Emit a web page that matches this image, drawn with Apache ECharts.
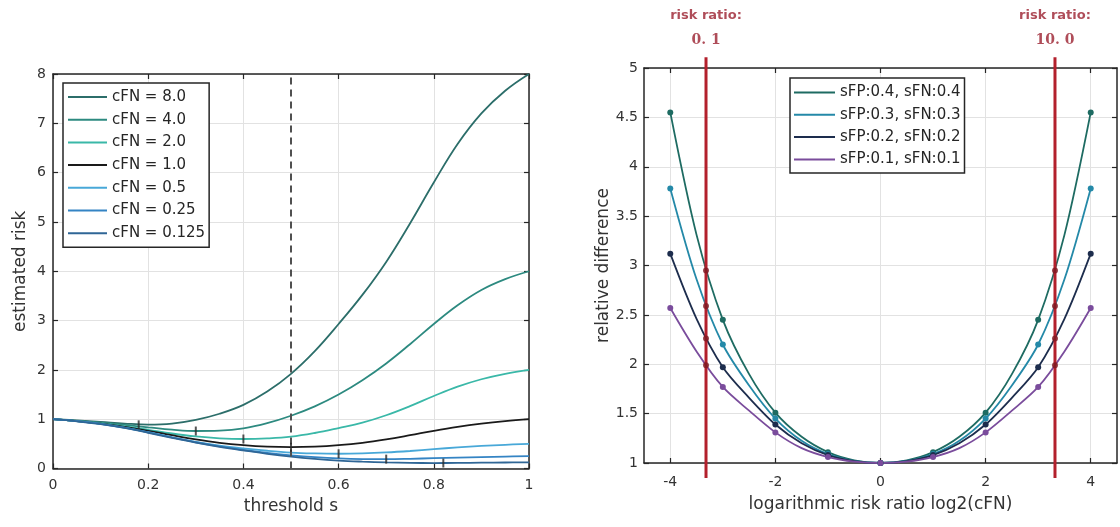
<!DOCTYPE html>
<html><head><meta charset="utf-8">
<script src="https://cdn.jsdelivr.net/npm/echarts@6/dist/echarts.min.js"></script>
<style>html,body{margin:0;padding:0;background:#fff}#c{width:1120px;height:527px}</style>
</head><body><div id="c"></div>
<script>
// ---------- left panel data ----------
const thresholds = [0,0.05,0.1,0.15,0.2,0.25,0.3,0.35,0.4,0.45,0.5,0.55,0.6,0.65,0.7,0.75,0.8,0.85,0.9,0.95,1];
const cfnNames = ['cFN = 8.0','cFN = 4.0','cFN = 2.0','cFN = 1.0','cFN = 0.5','cFN = 0.25','cFN = 0.125'];
const risk8   = [1,0.975,0.945,0.912,0.89,0.91,0.985,1.11,1.29,1.56,1.92,2.38,2.93,3.52,4.19,4.97,5.8,6.58,7.2,7.66,8];
const risk4   = [1,0.966,0.93,0.885,0.835,0.787,0.76,0.768,0.815,0.92,1.07,1.26,1.5,1.79,2.13,2.52,2.93,3.31,3.62,3.84,4];
const risk2   = [1,0.962,0.915,0.855,0.785,0.71,0.65,0.612,0.598,0.61,0.645,0.72,0.82,0.93,1.08,1.265,1.47,1.66,1.81,1.92,2];
const risk1   = [1,0.961,0.91,0.845,0.765,0.675,0.59,0.52,0.472,0.442,0.432,0.442,0.472,0.52,0.59,0.675,0.765,0.845,0.91,0.961,1];
const risk05  = [1,0.96,0.905,0.83,0.735,0.6325,0.54,0.465,0.41,0.36,0.3225,0.305,0.299,0.306,0.325,0.355,0.3925,0.4275,0.4575,0.481,0.5];
const risk025 = [1,0.96,0.905,0.8275,0.7325,0.63,0.5325,0.4475,0.375,0.315,0.2675,0.23,0.204,0.192,0.19,0.197,0.209,0.221,0.2325,0.2415,0.25];
const risk0125= [1,0.9575,0.9,0.8225,0.725,0.621,0.524,0.44,0.366,0.2975,0.24,0.195,0.161,0.139,0.123,0.114,0.111,0.114,0.118,0.122,0.125];
const minS = [0.18,0.3,0.4,0.5,0.6,0.7,0.82];
const minV = [0.885,0.76,0.598,0.432,0.299,0.19,0.111];
const dashedS = 0.5;
const leftColors = ['#2c6e6a','#2d8a80','#3ab8a8','#1a1a1a','#48a8d8','#3484c4','#2f6696'];

// ---------- right panel data ----------
const logRatioFine = [-4,-3.5,-3,-2.5,-2,-1.5,-1,-0.5,0,0.5,1,1.5,2,2.5,3,3.5,4];
const logRatioMarked = [-4,-3,-2,-1,0,1,2,3,4];
const relNames = ['sFP:0.4, sFN:0.4','sFP:0.3, sFN:0.3','sFP:0.2, sFN:0.2','sFP:0.1, sFN:0.1'];
const rel04 = [4.55,3.31,2.45,1.90,1.51,1.265,1.11,1.026,1,1.026,1.11,1.265,1.51,1.90,2.45,3.31,4.55];
const rel03 = [3.78,2.86,2.20,1.785,1.45,1.225,1.09,1.021,1,1.021,1.09,1.225,1.45,1.785,2.20,2.86,3.78];
const rel02 = [3.12,2.46,1.97,1.66,1.39,1.20,1.08,1.019,1,1.019,1.08,1.20,1.39,1.66,1.97,2.46,3.12];
const rel01 = [2.57,2.13,1.77,1.53,1.31,1.15,1.06,1.014,1,1.014,1.06,1.15,1.31,1.53,1.77,2.13,2.57];
const ratioLogs = [-3.32,3.32];
const ratioLabels = ['0. 1','10. 0'];
const rel04AtRatio = [2.95,2.95];
const rel03AtRatio = [2.59,2.59];
const rel02AtRatio = [2.26,2.26];
const rel01AtRatio = [1.99,1.99];
const rightColors = ['#1e6b62','#2489a8','#1d2d4d','#7a4c9c'];

const FONT = 'DejaVu Sans';
const AX = '#262626';
const chart = echarts.init(document.getElementById('c'), null, {renderer:'canvas'});

const leftRisk = [risk8,risk4,risk2,risk1,risk05,risk025,risk0125];
const relVals = [rel04,rel03,rel02,rel01];
const relAt = [rel04AtRatio,rel03AtRatio,rel02AtRatio,rel01AtRatio];

const tickLabel = {fontFamily:FONT, fontSize:14, color:'#333'};
const axisLine = {show:true, onZero:false, lineStyle:{color:AX, width:1.5}};
const axisTick = {show:true, inside:true, length:5, lineStyle:{color:AX, width:1.2}};
const split = {show:true, lineStyle:{color:'#e2e2e2', width:1}};
const nameStyle = {fontFamily:FONT, fontSize:17, color:'#333'};

const series = [];
leftRisk.forEach((arr,k)=>{
  series.push({name:cfnNames[k], type:'line', xAxisIndex:0, yAxisIndex:0,
    data: thresholds.map((s,i)=>[s, arr[i]]), smooth:0.4, symbol:'none',
    lineStyle:{color:leftColors[k], width:1.8}, itemStyle:{color:leftColors[k]}, z:3});
});
series.push({type:'line', xAxisIndex:0, yAxisIndex:0, data:[[dashedS,0],[dashedS,8]], symbol:'none',
  lineStyle:{color:'#505050', width:2, type:[7,5]}, z:4, silent:true});
series.push({type:'scatter', xAxisIndex:0, yAxisIndex:0, data:minS.map((s,i)=>[s,minV[i]]),
  symbol:'rect', symbolSize:[2,9], itemStyle:{color:'#2a2a2a'}, z:5, silent:true});

relVals.forEach((arr,k)=>{
  series.push({name:relNames[k], type:'line', xAxisIndex:2, yAxisIndex:2,
    data: logRatioFine.map((x,i)=>({value:[x, arr[i]], symbol: logRatioMarked.includes(x) ? 'circle' : 'none'})),
    smooth:0.3, symbol:'circle', symbolSize:6, showAllSymbol:true,
    lineStyle:{color:rightColors[k], width:1.8}, itemStyle:{color:rightColors[k]}, z:3});
});
ratioLogs.forEach((x,i)=>{
  series.push({type:'line', xAxisIndex:2, yAxisIndex:2, data:[[x,0.848],[x,5.11]], symbol:'none', clip:false,
    lineStyle:{color:'#b3202c', width:3}, z:6, silent:true});
  series.push({type:'scatter', xAxisIndex:2, yAxisIndex:2, clip:false, z:7, silent:true,
    data: relAt.map(a=>[x, a[i]]), symbol:'circle', symbolSize:6, itemStyle:{color:'#7d1822'}});
  series.push({type:'scatter', xAxisIndex:2, yAxisIndex:2, clip:false, z:7, silent:true,
    data:[[x,5.11]], symbolSize:0,
    label:{show:true, position:'top', distance:4, color:'#9b2130',
      formatter:'{a|risk ratio:}\n{b|'+ratioLabels[i]+'}',
      rich:{a:{fontFamily:FONT, fontWeight:'bold', fontSize:13, lineHeight:25, color:'#9b2130', align:'center'},
            b:{fontFamily:'DejaVu Serif', fontWeight:'bold', fontSize:14, lineHeight:25, color:'#9b2130', align:'center'}}}});
});

const legendCommon = {orient:'vertical', icon:'rect', itemHeight:2, backgroundColor:'#fff',
  borderColor:AX, borderWidth:1.5, borderRadius:0,
  textStyle:{fontFamily:FONT, fontSize:15, color:'#262626', lineHeight:17}};

chart.setOption({
  animation:false,
  backgroundColor:'#fff',
  grid:[{left:53, top:74, width:476, height:394.5},{left:644, top:68, width:473, height:395}],
  legend:[
    Object.assign({}, legendCommon, {data:cfnNames, left:63, top:83, itemWidth:39, itemGap:5.7, padding:[5.5,4,5.5,5]}),
    Object.assign({}, legendCommon, {data:relNames, left:790, top:78, itemWidth:41, itemGap:5.3, padding:[6,4,5,4]})
  ],
  xAxis:[
    {type:'value', gridIndex:0, min:0, max:1, interval:0.2, axisLine, axisTick, splitLine:split,
     axisLabel:Object.assign({margin:10}, tickLabel),
     name:'threshold s', nameLocation:'middle', nameGap:30, nameTextStyle:nameStyle},
    {type:'value', gridIndex:0, position:'top', min:0, max:1, interval:0.2, axisLine, axisTick,
     splitLine:{show:false}, axisLabel:{show:false}},
    {type:'value', gridIndex:1, min:-4.5, max:4.5, axisLine,
     axisTick:Object.assign({customValues:[-4,-2,0,2,4]}, axisTick), splitLine:split,
     axisLabel:Object.assign({margin:12, customValues:[-4,-2,0,2,4]}, tickLabel),
     name:'logarithmic risk ratio log2(cFN)', nameLocation:'middle', nameGap:33, nameTextStyle:nameStyle},
    {type:'value', gridIndex:1, position:'top', min:-4.5, max:4.5, axisLine,
     axisTick:Object.assign({customValues:[-4,-2,0,2,4]}, axisTick),
     splitLine:{show:false}, axisLabel:{show:false}}
  ],
  yAxis:[
    {type:'value', gridIndex:0, min:0, max:8, interval:1, axisLine, axisTick, splitLine:split,
     axisLabel:Object.assign({margin:7}, tickLabel),
     name:'estimated risk', nameLocation:'middle', nameGap:24, nameTextStyle:nameStyle},
    {type:'value', gridIndex:0, position:'right', min:0, max:8, interval:1, axisLine, axisTick,
     splitLine:{show:false}, axisLabel:{show:false}},
    {type:'value', gridIndex:1, min:1, max:5, interval:0.5, axisLine, axisTick, splitLine:split,
     axisLabel:Object.assign({margin:6}, tickLabel),
     name:'relative difference', nameLocation:'middle', nameGap:32, nameTextStyle:nameStyle},
    {type:'value', gridIndex:1, position:'right', min:1, max:5, interval:0.5, axisLine, axisTick,
     splitLine:{show:false}, axisLabel:{show:false}}
  ],
  series
});
</script></body></html>
